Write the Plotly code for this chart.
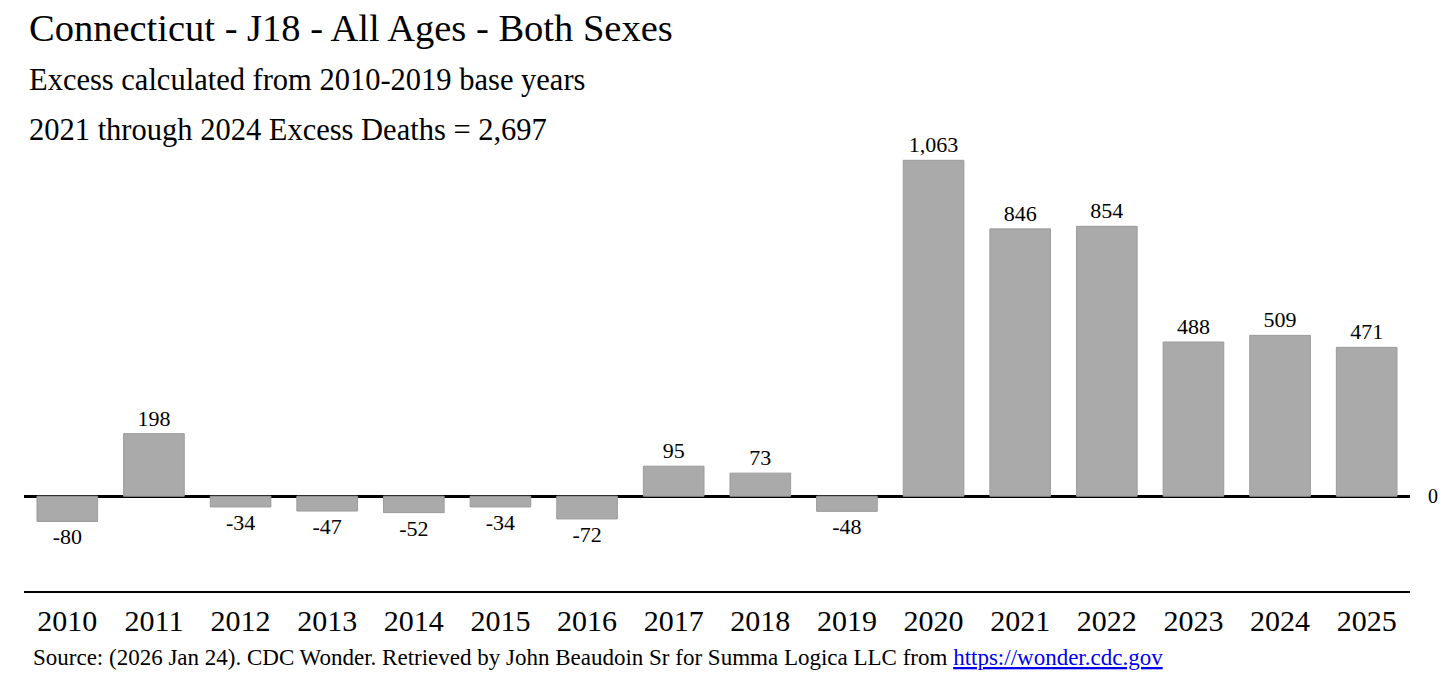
import plotly.graph_objects as go

years = ["2010", "2011", "2012", "2013", "2014", "2015", "2016", "2017",
         "2018", "2019", "2020", "2021", "2022", "2023", "2024", "2025"]
excess = [-80, 198, -34, -47, -52, -34, -72, 95, 73, -48, 1063, 846, 854, 488, 509, 471]
labels = [f"{v:,}" for v in excess]

title = "Connecticut - J18 - All Ages - Both Sexes"
subtitle1 = "Excess calculated from 2010-2019 base years"
subtitle2 = "2021 through 2024 Excess Deaths = 2,697"
source = ("Source: (2026 Jan 24). CDC Wonder. Retrieved by John Beaudoin Sr for Summa Logica LLC from "
          "<a href='https://wonder.cdc.gov' style='color:#0000EE;text-decoration:underline'>https://wonder.cdc.gov</a>")

FONT = "Liberation Serif, Times New Roman, serif"

# page offset (body margin) compensation
OFF = 8
W, H = 1456 - OFF, 679 - OFF
l, r, t, b = 24 - OFF, 46, 117 - OFF, 88
pw, ph = W - l - r, H - t - b

def px_to_paper(px, py):
    fx, fy = px - OFF, py - OFF
    return (fx - l) / pw, (H - fy - b) / ph

fig = go.Figure(go.Bar(
    x=years, y=excess, text=labels, textposition="outside",
    textfont=dict(family=FONT, size=22, color="black"),
    marker=dict(color="#aaaaaa", line=dict(color="#9c9c9c", width=1)),
    width=0.7, cliponaxis=False, hoverinfo="skip",
))

texts = [
    (title, 27, 28, 38.5),
    (subtitle1, 27, 80, 30.5),
    (subtitle2, 27, 130, 30.5),
    (source, 31, 657, 23),
]
annotations = []
for txt, x, y, size in texts:
    ax, ay = px_to_paper(x, y)
    annotations.append(dict(text=txt, x=ax, y=ay, xref="paper", yref="paper",
                            showarrow=False, xanchor="left", yanchor="middle",
                            font=dict(family=FONT, size=size, color="black")))

fig.update_layout(
    width=W, height=H,
    margin=dict(l=l, r=r, t=t, b=b),
    paper_bgcolor="white", plot_bgcolor="white",
    font=dict(family=FONT, color="black"),
    showlegend=False,
    xaxis=dict(showline=True, linecolor="black", linewidth=2, ticks="",
               tickfont=dict(family=FONT, size=30, color="black"),
               ticklabelstandoff=2, showgrid=False),
    yaxis=dict(range=[-300, 1200], side="right", tickvals=[0], ticktext=["0"],
               tickfont=dict(family=FONT, size=20, color="black"),
               ticklabelstandoff=17,
               showgrid=False, zeroline=True, zerolinecolor="black", zerolinewidth=3,
               showline=False, ticks=""),
    annotations=annotations,
)

fig.write_html("out.html")
